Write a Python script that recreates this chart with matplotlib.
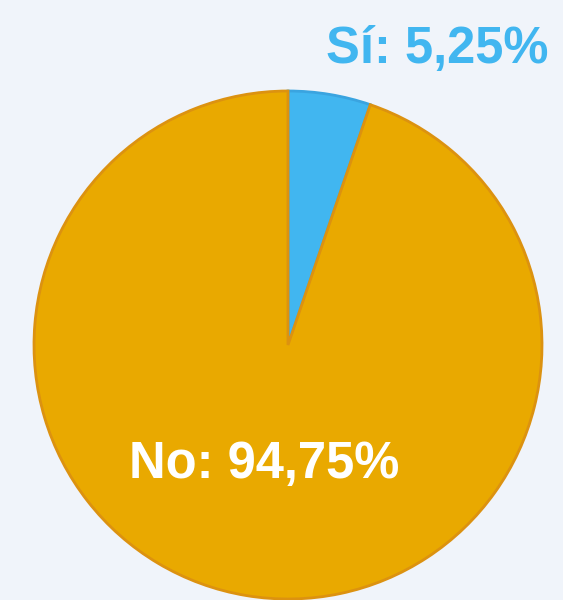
import matplotlib.pyplot as plt

labels = ["Sí", "No"]
values = [5.25, 94.75]
colors = ["#41b6f0", "#e9a900"]
label_colors = ["#41b6f0", "white"]
# label positions in data units (pie radius = 1)
label_pos = [(0.587, 1.165), (-0.094, -0.472)]

plt.rcParams['font.family'] = ['Liberation Sans', 'DejaVu Sans']

fig = plt.figure(figsize=(5.63, 6.0), dpi=100)
fig.patch.set_facecolor("#f0f4fa")

r_px = 254
cx, cy = 288, 600 - 345
ax = fig.add_axes([(cx - r_px) / 563, (cy - r_px) / 600, 2 * r_px / 563, 2 * r_px / 600])
ax.set_facecolor("none")

wedges, _ = ax.pie(values, colors=colors, startangle=90, counterclock=False,
                   radius=1, wedgeprops=dict(linewidth=2))
for w, c in zip(wedges, ["#3aa4e0", "#dc9210"]):
    w.set_edgecolor(c)

for lab, v, col, (x, y) in zip(labels, values, label_colors, label_pos):
    txt = lab + ": " + ("%.2f" % v).replace(".", ",") + "%"
    ax.text(x, y, txt, color=col, fontsize=36.5, fontweight="bold",
            ha="center", va="center", clip_on=False)

ax.set_xlim(-1, 1)
ax.set_ylim(-1, 1)
ax.set_aspect("auto")
ax.axis("off")

fig.savefig("out.png", facecolor=fig.get_facecolor())
